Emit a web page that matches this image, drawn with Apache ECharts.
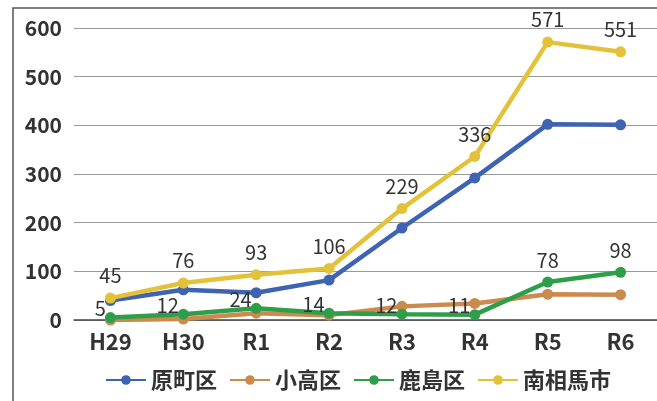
<!DOCTYPE html>
<html><head><meta charset="utf-8">
<script src="https://cdn.jsdelivr.net/npm/echarts@6/dist/echarts.min.js"></script>
<style>html,body{margin:0;padding:0;background:#fff}#c{width:657px;height:401px}</style>
</head><body><div id="c"></div>
<script>
const categories = ['H29','H30','R1','R2','R3','R4','R5','R6'];
const haramachi = [40, 62, 56, 82, 189, 292, 402, 401];
const odaka = [0, 2, 14, 10, 28, 34, 53, 52];
const kashima = [5, 12, 24, 14, 12, 11, 78, 98];
const minamisoma = [45, 76, 93, 106, 229, 336, 571, 551];
const yTicks = [0, 100, 200, 300, 400, 500, 600];

const font = 'Noto Sans CJK JP';
const wt = 'bold';
const chart = echarts.init(document.getElementById('c'));
const kashimaData = kashima.map((v, i) => i < 6
  ? {value: v, label: {position: 'left', offset: [6, -9]}}
  : {value: v, label: {position: 'top', distance: 6}});

function line(name, color, data, label) {
  return {
    name, type: 'line', data, symbol: 'circle', symbolSize: 11,
    lineStyle: {width: 4.5, color}, itemStyle: {color},
    label: label || {show: false}, z: name === '南相馬市' ? 5 : 3
  };
}
const lbl = {show: true, fontFamily: font, fontSize: 20, color: '#333', fontWeight: 'normal'};
chart.setOption({
  animation: false,
  textStyle: {fontFamily: font},
  graphic: [{type: 'rect', shape: {x: 13, y: 8, width: 700, height: 500},
    style: {fill: 'none', stroke: '#555', lineWidth: 1.5}, silent: true}],
  grid: {left: 74, top: 28, width: 588, bottom: 81},
  legend: {
    bottom: 5, left: 100, itemWidth: 40, itemHeight: 12, itemGap: 12,
    textStyle: {fontFamily: font, fontSize: 22, color: '#333', fontWeight: wt},
    data: ['原町区','小高区','鹿島区','南相馬市']
  },
  xAxis: {
    type: 'category', data: categories, boundaryGap: true,
    axisLine: {lineStyle: {color: '#444', width: 1.5}},
    axisTick: {show: false},
    axisLabel: {fontFamily: font, fontSize: 22, color: '#333', margin: 11, fontWeight: wt}
  },
  yAxis: {
    type: 'value', min: 0, max: 600, interval: 100,
    axisLine: {show: false}, axisTick: {show: false},
    axisLabel: {fontFamily: font, fontSize: 21, color: '#333', margin: 12, fontWeight: wt,
      formatter: v => yTicks.includes(v) ? String(v) : ''},
    splitLine: {lineStyle: {color: '#999', width: 1.2}}
  },
  series: [
    line('原町区', '#3E63B2', haramachi),
    line('小高区', '#CB8A4E', odaka),
    line('鹿島区', '#2F9E4A', kashimaData, Object.assign({}, lbl)),
    line('南相馬市', '#E3C23A', minamisoma, Object.assign({position: 'top', distance: 7}, lbl))
  ]
});
</script></body></html>
